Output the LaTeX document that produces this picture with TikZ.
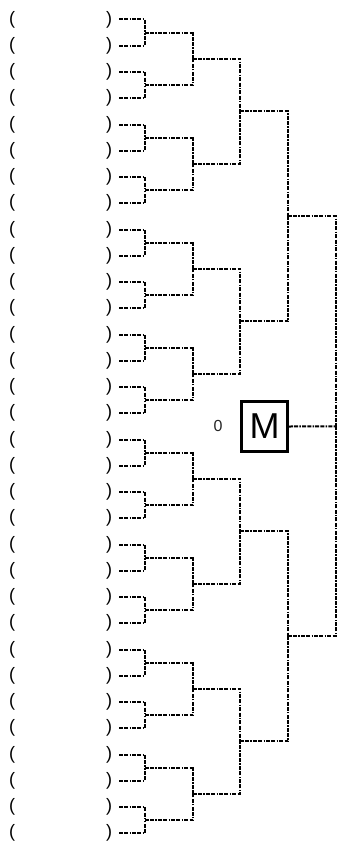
\documentclass[tikz,border=0pt]{standalone}
\usepackage{fontspec}
\setmainfont{Liberation Sans}
\usetikzlibrary{calc}

\tikzset{
  paren/.style = {inner sep = 0pt, font = \fontsize{18}{21}\selectfont},
  rparen/.style = {paren, inner xsep = 7pt},
  link/.style = {line width = 2pt, dash pattern = on 4pt off 1.2pt on 4pt off 1.2pt on 1.5pt off 1.2pt},
  champ/.style = {draw, line width = 3pt, minimum width = 46pt, minimum height = 50pt, inner sep = 0pt, font = \fontsize{36}{42}\selectfont}
}

\begin{document}
\begin{tikzpicture}[x = 1pt, y = -1pt]
\useasboundingbox (0,0) rectangle (337,843);
\foreach \i in {0,...,31} {
  \pgfmathsetmacro{\ry}{19.5 + 26.25*\i}
  \node[paren] (lp\i) at (12,\ry) {(};
  \node[rparen] (rp\i) at (109,\ry) {)};
}
\foreach \k in {0,...,15} \coordinate (b\k) at (145, 32.625 + 52.5*\k);
\foreach \k in {0,...,7} \coordinate (c\k) at (193, 58.875 + 105*\k);
\foreach \k in {0,...,3} \coordinate (d\k) at (240, 111.375 + 210*\k);
\foreach \k in {0,...,1} \coordinate (e\k) at (288, 216.375 + 420*\k);
\coordinate (f0) at (335.5, 426.375);
\node[champ] (M) at (264.5, 426.5) {M};
\node[font = \fontsize{16}{19}\selectfont, text = black!85] (zero) at (218, 426) {0};
\foreach \k in {0,...,15} {
  \pgfmathtruncatemacro{\a}{2*\k}
  \pgfmathtruncatemacro{\b}{2*\k+1}
  \draw[link] (rp\a.east) -| (b\k);
  \draw[link] (rp\b.east) -| (b\k);
}
\foreach \k in {0,...,7} {
  \pgfmathtruncatemacro{\a}{2*\k}
  \pgfmathtruncatemacro{\b}{2*\k+1}
  \draw[link] (b\a) -| (c\k);
  \draw[link] (b\b) -| (c\k);
}
\foreach \k in {0,...,3} {
  \pgfmathtruncatemacro{\a}{2*\k}
  \pgfmathtruncatemacro{\b}{2*\k+1}
  \draw[link] (c\a) -| (d\k);
  \draw[link] (c\b) -| (d\k);
}
\foreach \k in {0,...,1} {
  \pgfmathtruncatemacro{\a}{2*\k}
  \pgfmathtruncatemacro{\b}{2*\k+1}
  \draw[link] (d\a) -| (e\k);
  \draw[link] (d\b) -| (e\k);
}
\draw[link] (e0) -| (f0);
\draw[link] (e1) -| (f0);
\draw[link] (M.east) -- (f0);
\end{tikzpicture}
\end{document}
